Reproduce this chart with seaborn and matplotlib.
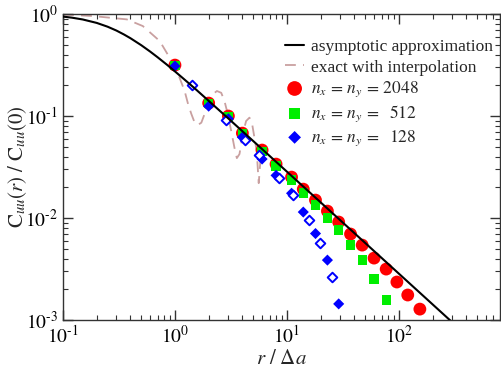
import matplotlib
matplotlib.use('Agg')
import matplotlib.pyplot as plt
import matplotlib.ticker as mticker
import seaborn as sns
import numpy as np

# asymptotic approximation (black line)
r_asym = [0.1, 0.12, 0.15, 0.2, 0.25, 0.3, 0.35, 0.4, 0.5, 0.6, 0.7, 0.85, 1, 1.2, 1.5, 2, 3, 5, 7, 10, 20, 30, 50, 100, 300]
c_asym = [0.944, 0.922, 0.885, 0.819, 0.752, 0.689, 0.631, 0.580, 0.495, 0.429, 0.377, 0.318, 0.274, 0.231, 0.187,
          0.141, 0.0946, 0.0569, 0.0407, 0.0285, 0.01425, 0.0095, 0.0057, 0.00285, 0.00095]

# exact with interpolation (dashed)
r_exact = [0.1, 0.185, 0.371, 0.516, 0.731, 0.897, 1.0, 1.10, 1.22, 1.31, 1.40, 1.50, 1.60, 1.72, 1.84, 1.97,
           2.18, 2.37, 2.59, 2.77, 2.96, 3.18, 3.40, 3.57, 3.77, 4.03, 4.32, 4.63, 4.89, 5.13, 5.37, 5.50,
           5.60, 5.72, 5.88]
c_exact = [0.99, 0.956, 0.887, 0.763, 0.544, 0.373, 0.309, 0.237, 0.176, 0.131, 0.105, 0.0861, 0.0817, 0.0861,
           0.105, 0.131, 0.164, 0.176, 0.169, 0.140, 0.105, 0.0714, 0.0489, 0.0387, 0.0424, 0.0666, 0.0894,
           0.0965, 0.0836, 0.0611, 0.0453, 0.0300, 0.0220, 0.0300, 0.0453]

# n = 2048
r_2048 = [1, 2, 3, 4, 6, 8, 11, 14, 18, 23, 29, 37, 47, 60, 77, 96, 120, 154]
c_2048 = [0.316, 0.134, 0.100, 0.068, 0.0464, 0.0338, 0.0252, 0.0192, 0.0150, 0.0117, 0.00914, 0.00697,
          0.00543, 0.00405, 0.00316, 0.00236, 0.00176, 0.00128]

# n = 512
r_512 = [1, 2, 3, 4, 6, 8, 11, 14, 18, 23, 29, 37, 47, 60, 77]
c_512 = [0.312, 0.132, 0.099, 0.067, 0.045, 0.0324, 0.0236, 0.0176, 0.0134, 0.0100, 0.00762, 0.00543,
         0.00387, 0.00252, 0.00157]

# n = 128, axis direction (filled) and diagonal (open)
r_128 = [1, 2, 3, 4, 6, 8, 11, 14, 18, 23, 29]
c_128 = [0.309, 0.125, 0.094, 0.062, 0.0379, 0.0262, 0.0175, 0.01145, 0.00705, 0.00387, 0.00144]
r_128d = [1.41, 2.83, 4.24, 5.66, 8.49, 11.3, 15.6, 19.8, 25.5]
c_128d = [0.201, 0.0908, 0.0582, 0.0415, 0.0248, 0.0168, 0.00955, 0.00575, 0.00266]

lab_asym = 'asymptotic approximation'
lab_exact = 'exact with interpolation'
lab_2048 = r'$n_x\,=\,n_y\,=\,2048$'
lab_512 = r'$n_x\,=\,n_y\,=\,\enspace512$'
lab_128 = r'$n_x\,=\,n_y\,=\,\enspace128$'

sns.set_style('ticks')
plt.rcParams['font.family'] = ['Liberation Serif', 'DejaVu Serif']
plt.rcParams['mathtext.fontset'] = 'stix'

fig, ax = plt.subplots(figsize=(5.02, 3.70), dpi=100)
fig.subplots_adjust(left=0.1255, right=0.996, bottom=0.135, top=0.962)

sns.lineplot(x=r_exact, y=c_exact, color='#c9a0a0', linestyle=(0, (6, 4)), linewidth=1.3,
             label=lab_exact, ax=ax, zorder=2)
sns.scatterplot(x=r_2048, y=c_2048, marker='o', s=85, color='red', edgecolor='none',
                label=lab_2048, ax=ax, zorder=3)
sns.scatterplot(x=r_512, y=c_512, marker='s', s=45, color='#00ee00', edgecolor='none',
                label=lab_512, ax=ax, zorder=4)
sns.scatterplot(x=r_128, y=c_128, marker='D', s=32, color='blue', edgecolor='none',
                label=lab_128, ax=ax, zorder=5)
sns.scatterplot(x=r_128d, y=c_128d, marker='D', s=24, facecolor='white', edgecolor='blue',
                linewidth=1.4, legend=False, ax=ax, zorder=6)
sns.lineplot(x=r_asym, y=c_asym, color='black', linewidth=1.5, label=lab_asym, ax=ax, zorder=7)

ax.set_xscale('log')
ax.set_yscale('log')
ax.set_xlim(0.1, 800)
ax.set_ylim(1e-3, 1)


def pow10(v, pos):
    e = int(round(np.log10(v)))
    if e < 0:
        return r'$10^{\text{-}%d}$' % (-e)
    return r'$10^{%d}$' % e


for axis in (ax.xaxis, ax.yaxis):
    axis.set_major_formatter(mticker.FuncFormatter(pow10))
    axis.set_minor_formatter(mticker.NullFormatter())

ax.tick_params(which='both', direction='in', top=True, right=True, labelsize=14, colors='#333333',
               labelcolor='black')
ax.tick_params(which='major', length=7, width=1)
ax.tick_params(which='minor', length=3.5, width=0.8)
for sp in ax.spines.values():
    sp.set_color('#333333')
    sp.set_linewidth(1)

ax.set_xlabel(r'$r\ /\ \Delta a$', fontsize=15, labelpad=2)
ax.set_ylabel(r'$\mathrm{C}_{uu}(r)\ /\ \mathrm{C}_{uu}(0)$', fontsize=15)
ax.yaxis.set_label_coords(-0.078, 0.5)

handles, labels = ax.get_legend_handles_labels()
order = [lab_asym, lab_exact, lab_2048, lab_512, lab_128]
hmap = dict(zip(labels, handles))
ax.legend([hmap[k] for k in order], order, loc='upper right', bbox_to_anchor=(1.02, 0.97),
          frameon=False, fontsize=12.5, handlelength=1.1, handletextpad=0.4, labelspacing=0.25,
          markerscale=1.15)

fig.savefig('out.png', dpi=100)
